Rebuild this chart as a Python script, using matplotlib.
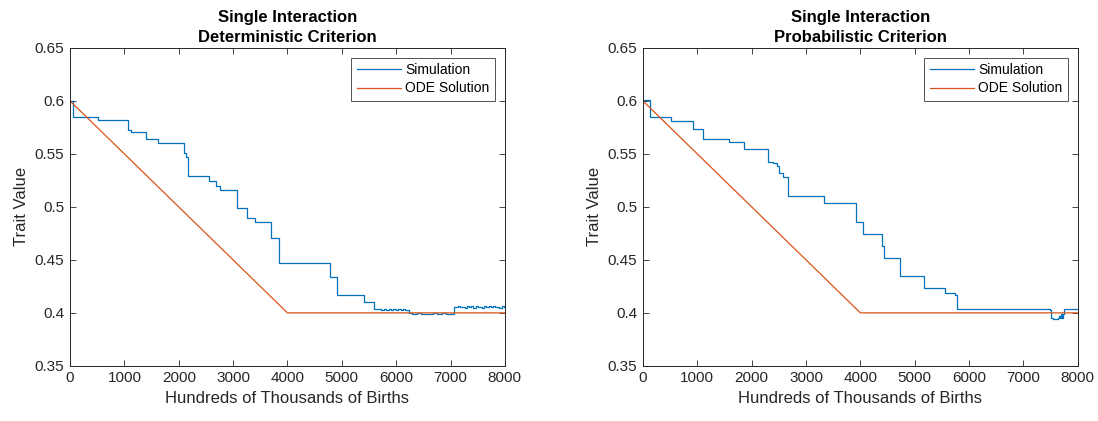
"""
Trait value trajectories: single-interaction simulation vs. ODE solution,
for the deterministic and probabilistic selection criteria.
"""

import matplotlib
matplotlib.use('Agg')
import matplotlib.pyplot as plt

plt.rcParams['font.family'] = ['Liberation Sans', 'DejaVu Sans']

SIM_COLOR = '#0072BD'
ODE_COLOR = '#D95319'
AX_COLOR = '#262626'

# ODE solution (same for both criteria)
ode_x = [0, 4000, 8000]
ode_y = [0.60, 0.40, 0.40]

# Deterministic criterion: step changes in the mean trait
det_x = [0, 55, 522, 1069, 1118, 1395, 1610, 2101, 2140, 2163, 2550, 2686,
         2765, 3073, 3250, 3410, 3700, 3853, 4774, 4916, 5407]
det_y = [0.600, 0.585, 0.582, 0.5724, 0.5706, 0.5643, 0.5606, 0.5506, 0.5475,
         0.5294, 0.5241, 0.5201, 0.5157, 0.4989, 0.4893, 0.4853, 0.4708,
         0.4469, 0.4338, 0.4173, 0.4105]
# fluctuating tail once the population settles
det_tail_x = [5585, 5630, 5680, 5720, 5770, 5810, 5860, 5900, 5950, 5990,
              6040, 6080, 6130, 6170, 6236, 6300, 6380, 6450, 6520, 6600,
              6680, 6760, 6840, 6920, 7000, 7060, 7100, 7140, 7180, 7220,
              7260, 7300, 7340, 7380, 7420, 7460, 7500, 7540, 7580, 7620,
              7660, 7700, 7740, 7780, 7820, 7860, 7900, 7940, 7980, 8000]
det_tail_y = [0.4040, 0.4032, 0.4038, 0.4030, 0.4036, 0.4031, 0.4039, 0.4029,
              0.4035, 0.4030, 0.4037, 0.4031, 0.4036, 0.4031, 0.3995, 0.3991,
              0.3996, 0.3992, 0.3994, 0.3990, 0.3995, 0.3991, 0.3996, 0.3992,
              0.3994, 0.4060, 0.4052, 0.4063, 0.4053, 0.4060, 0.4049, 0.4064,
              0.4054, 0.4061, 0.4050, 0.4063, 0.4052, 0.4060, 0.4050, 0.4063,
              0.4053, 0.4061, 0.4051, 0.4062, 0.4052, 0.4059, 0.4050, 0.4062,
              0.4054, 0.4058]

# Probabilistic criterion
prob_x = [0, 122, 522, 921, 1106, 1590, 1867, 2291, 2400, 2464, 2494, 2568,
          2667, 3324, 3924, 4050, 4400, 4430, 4737, 5166, 5548, 5733, 5770]
prob_y = [0.601, 0.585, 0.5811, 0.574, 0.5637, 0.5612, 0.5544, 0.5428, 0.5410,
          0.5388, 0.532, 0.5282, 0.510, 0.5033, 0.4862, 0.4746, 0.4634, 0.4516,
          0.4344, 0.4234, 0.4184, 0.4168, 0.4033]
prob_tail_x = [6500, 7200, 7490, 7510, 7540, 7570, 7600, 7630, 7650, 7670,
               7690, 7710, 7730, 7750, 8000]
prob_tail_y = [0.4034, 0.4032, 0.4030, 0.3950, 0.3942, 0.3945, 0.3941, 0.3947,
               0.3975, 0.3952, 0.3985, 0.3950, 0.3990, 0.4035, 0.4035]

x_ticks = list(range(0, 8001, 1000))
y_ticks = [0.35, 0.4, 0.45, 0.5, 0.55, 0.6, 0.65]


def style_axes(ax, title):
    ax.set_xlim(0, 8000)
    ax.set_ylim(0.35, 0.65)
    ax.set_xticks(x_ticks)
    ax.set_yticks(y_ticks)
    ax.set_yticklabels(['0.35', '0.4', '0.45', '0.5', '0.55', '0.6', '0.65'])
    ax.tick_params(direction='in', length=4, width=0.6, colors=AX_COLOR,
                   labelsize=11, top=True, right=True, pad=4)
    for side in ax.spines.values():
        side.set_color(AX_COLOR)
        side.set_linewidth(0.7)
    ax.set_xlabel('Hundreds of Thousands of Births', fontsize=12, color=AX_COLOR)
    ax.set_ylabel('Trait Value', fontsize=12, color=AX_COLOR)
    ax.set_title(title, fontsize=12, fontweight='bold', color='black',
                 linespacing=1.45, pad=4)
    leg = ax.legend(loc='upper right', fontsize=10, frameon=True, fancybox=False,
                    handlelength=3.2, borderpad=0.4, labelspacing=0.3,
                    handletextpad=0.3, borderaxespad=0.7)
    leg.get_frame().set_edgecolor(AX_COLOR)
    leg.get_frame().set_linewidth(0.7)


fig = plt.figure(figsize=(10.98, 4.21), dpi=100)
ax1 = fig.add_axes([0.0638, 0.131, 0.396, 0.755])
ax2 = fig.add_axes([0.5856, 0.131, 0.396, 0.755])

ax1.plot(det_x + det_tail_x, det_y + det_tail_y, drawstyle='steps-post',
         color=SIM_COLOR, linewidth=0.9, label='Simulation')
ax1.plot(ode_x, ode_y, color=ODE_COLOR, linewidth=0.9, label='ODE Solution')
style_axes(ax1, 'Single Interaction\nDeterministic Criterion')

ax2.plot(prob_x + prob_tail_x, prob_y + prob_tail_y, drawstyle='steps-post',
         color=SIM_COLOR, linewidth=0.9, label='Simulation')
ax2.plot(ode_x, ode_y, color=ODE_COLOR, linewidth=0.9, label='ODE Solution')
style_axes(ax2, 'Single Interaction\nProbabilistic Criterion')

fig.savefig('out.png', dpi=100)
